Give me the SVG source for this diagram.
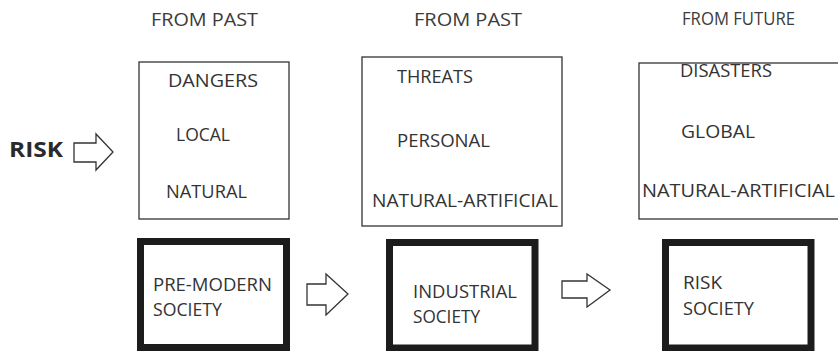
<svg xmlns="http://www.w3.org/2000/svg" width="838" height="351" viewBox="0 0 838 351">
<style>
text{font-family:"Open Sans","Liberation Sans",sans-serif;font-size:17.5px;fill:#333}
.head{fill:#3c3c3c}
.thin{fill:#fff;stroke:#333;stroke-width:1.3}
.thick{fill:#fff;stroke:#1c1c1c;stroke-width:7}
.arrow{fill:#fff;stroke:#333;stroke-width:1.3;stroke-linejoin:miter}
.risk{font-weight:bold;font-size:22px;fill:#2a2a2a}
</style>
<rect width="838" height="351" fill="#fff"/>
<g id="headers">
<text class="head" x="151" y="26" textLength="107" lengthAdjust="spacingAndGlyphs">FROM PAST</text>
<text class="head" x="414" y="26" textLength="108" lengthAdjust="spacingAndGlyphs">FROM PAST</text>
<text class="head" x="682" y="25" textLength="113" lengthAdjust="spacingAndGlyphs">FROM FUTURE</text>
</g>
<g id="risk-label">
<text class="risk" x="9" y="157" textLength="54" lengthAdjust="spacingAndGlyphs">RISK</text>
</g>
<g id="box-dangers">
<rect class="thin" x="139" y="62" width="150" height="157"/>
<text x="168" y="87" textLength="90" lengthAdjust="spacingAndGlyphs">DANGERS</text>
<text x="176" y="141" textLength="54" lengthAdjust="spacingAndGlyphs">LOCAL</text>
<text x="166" y="198" textLength="81" lengthAdjust="spacingAndGlyphs">NATURAL</text>
</g>
<g id="box-threats">
<rect class="thin" x="362" y="57" width="200" height="169"/>
<text x="397" y="83" textLength="76" lengthAdjust="spacingAndGlyphs">THREATS</text>
<text x="397" y="147" textLength="93" lengthAdjust="spacingAndGlyphs">PERSONAL</text>
<text x="372" y="207" textLength="186" lengthAdjust="spacingAndGlyphs">NATURAL-ARTIFICIAL</text>
</g>
<g id="box-disasters">
<rect class="thin" x="639" y="63" width="210" height="156"/>
<text x="680" y="77" textLength="92" lengthAdjust="spacingAndGlyphs">DISASTERS</text>
<text x="681" y="138" textLength="74" lengthAdjust="spacingAndGlyphs">GLOBAL</text>
<text x="642" y="197" textLength="193" lengthAdjust="spacingAndGlyphs">NATURAL-ARTIFICIAL</text>
</g>
<g id="pre-modern-society">
<rect class="thick" x="140.5" y="241.5" width="146" height="106"/>
<text x="153" y="291" textLength="119" lengthAdjust="spacingAndGlyphs">PRE-MODERN</text>
<text x="153" y="316" textLength="69" lengthAdjust="spacingAndGlyphs">SOCIETY</text>
</g>
<g id="industrial-society">
<rect class="thick" x="389.5" y="242.5" width="145.5" height="105.5"/>
<text x="413" y="298" textLength="104" lengthAdjust="spacingAndGlyphs">INDUSTRIAL</text>
<text x="413" y="323" textLength="67" lengthAdjust="spacingAndGlyphs">SOCIETY</text>
</g>
<g id="risk-society">
<rect class="thick" x="665.5" y="242.5" width="145.5" height="105.5"/>
<text x="683" y="289" textLength="39" lengthAdjust="spacingAndGlyphs">RISK</text>
<text x="683" y="315" textLength="71" lengthAdjust="spacingAndGlyphs">SOCIETY</text>
</g>
<g id="connectors">
<polygon class="arrow" points="74,143 96,143 96,134 113,152 96,170 96,162 74,162"/>
<polygon class="arrow" points="307,284 326,284 326,274 348,294 326,315 326,305 307,305"/>
<polygon class="arrow" points="562,281 587,281 587,274 610,290 587,307 587,298 562,298"/>
</g>
</svg>
